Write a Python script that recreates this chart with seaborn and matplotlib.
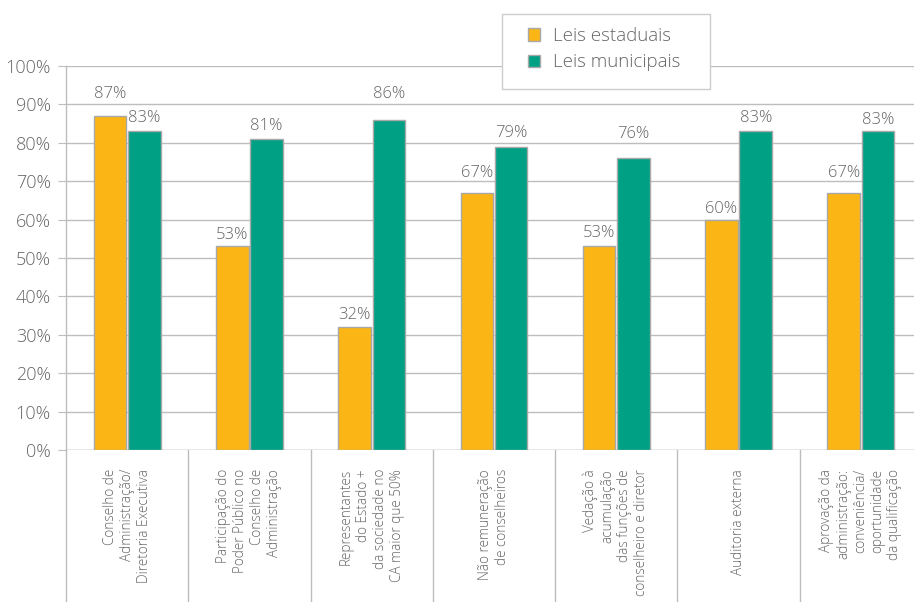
import matplotlib
matplotlib.use("Agg")
import matplotlib.pyplot as plt
import matplotlib.transforms as mtrans
from matplotlib.patches import Rectangle
import seaborn as sns
import pandas as pd

categories = [
    "Conselho de\nAdministração/\nDiretoria Executiva",
    "Participação do\nPoder Público no\nConselho de\nAdministração",
    "Representantes\ndo Estado +\nda sociedade no\nCA maior que 50%",
    "Não remuneração\nde conselheiros",
    "Vedação à\nacumulação\ndas funções de\nconselheiro e diretor",
    "Auditoria externa",
    "Aprovação da\nadministração:\nconveniência/\noportunidade\nda qualificação",
]
series_names = ["Leis estaduais", "Leis municipais"]
estaduais = [87, 53, 32, 67, 53, 60, 67]
municipais = [83, 81, 86, 79, 76, 83, 83]
yticks = [0, 10, 20, 30, 40, 50, 60, 70, 80, 90, 100]
ytick_labels = [f"{v}%" for v in yticks]

# label vertical offsets above bar top (pixels)
off_est = [22, 11, 12, 20, 13, 11, 20]
off_mun = [13, 13, 26, 14, 24, 13, 11]

colors = ["#FBB615", "#00A084"]
txt_color = "#666666"
grid_color = "#BDBDBD"

sns.set_style("white")
plt.rcParams["font.family"] = ["Open Sans", "DejaVu Sans"]

df = pd.DataFrame({
    "cat": categories * 2,
    "val": estaduais + municipais,
    "serie": [series_names[0]] * len(categories) + [series_names[1]] * len(categories),
})

W, H = 914, 602
fig = plt.figure(figsize=(W / 100, H / 100), dpi=100)
left, right, bottom, top = 66, 922, 450, 66
ax = fig.add_axes([left / W, 1 - bottom / H, (right - left) / W, (bottom - top) / H])

sns.barplot(data=df, x="cat", y="val", hue="serie", palette=colors, ax=ax,
            width=0.56, gap=0.05, edgecolor="#A8A8A8", linewidth=1.0,
            saturation=1, legend=False, zorder=3)

ax.set_xlim(-0.5, len(categories) - 0.5)
ax.set_ylim(0, 100)
ax.set_yticks(yticks)
ax.set_yticklabels(ytick_labels, fontsize=13, color=txt_color, fontweight="light")
ax.set_xticks([])
ax.set_xlabel("")
ax.set_ylabel("")
ax.yaxis.grid(True, color=grid_color, linewidth=1.0, zorder=0)
ax.set_axisbelow(True)
ax.tick_params(axis="y", length=6, color=grid_color, pad=5, left=True)
for s in ["top", "right", "bottom"]:
    ax.spines[s].set_visible(False)
ax.spines["left"].set_color(grid_color)
ax.spines["left"].set_linewidth(1.0)

# bar value labels
for cont, offs in zip(ax.containers, [off_est, off_mun]):
    for bar, off in zip(cont, offs):
        v = bar.get_height()
        ax.annotate(f"{v:.0f}%", (bar.get_x() + bar.get_width() / 2, v),
                    xytext=(0, off * 0.72), textcoords="offset points",
                    ha="center", va="center", fontsize=12, color=txt_color,
                    fontweight="light", zorder=5)

# category separators and labels below axis
trans = mtrans.blended_transform_factory(ax.transData, ax.transAxes)
n = len(categories)
for i in range(n + 1):
    ax.plot([i - 0.5, i - 0.5], [0, -0.5], transform=trans, color=grid_color,
            linewidth=1.0, clip_on=False, zorder=1)
ax.axhline(0, color=grid_color, linewidth=1.0, zorder=1)
for i, c in enumerate(categories):
    ax.text(i, -19 / (bottom - top), c, transform=trans, rotation=90,
            ha="center", va="top", rotation_mode="default", multialignment="right",
            fontsize=9.8, color=txt_color, fontweight="light", linespacing=1.18)

# legend (figure-level) with a manual frame
box = Rectangle((502 / W, 1 - 89 / H), (710 - 502) / W, (89 - 14) / H,
                transform=fig.transFigure, facecolor="white", edgecolor="#CCCCCC",
                linewidth=1.0, zorder=2)
fig.add_artist(box)
handles = [Rectangle((0, 0), 1, 1, facecolor=c, edgecolor="#A8A8A8", linewidth=1.0)
           for c in colors]
leg = fig.legend(handles, series_names, loc="upper left",
                 bbox_to_anchor=(528 / W, 1 - 27 / H), bbox_transform=fig.transFigure,
                 frameon=False, fontsize=13.5, handlelength=0.65, handleheight=0.65,
                 handletextpad=0.7, borderpad=0, labelspacing=0.45, borderaxespad=0)
for t in leg.get_texts():
    t.set_color(txt_color)
    t.set_fontweight("light")
leg.set_zorder(5)

fig.savefig("out.png", dpi=100)
